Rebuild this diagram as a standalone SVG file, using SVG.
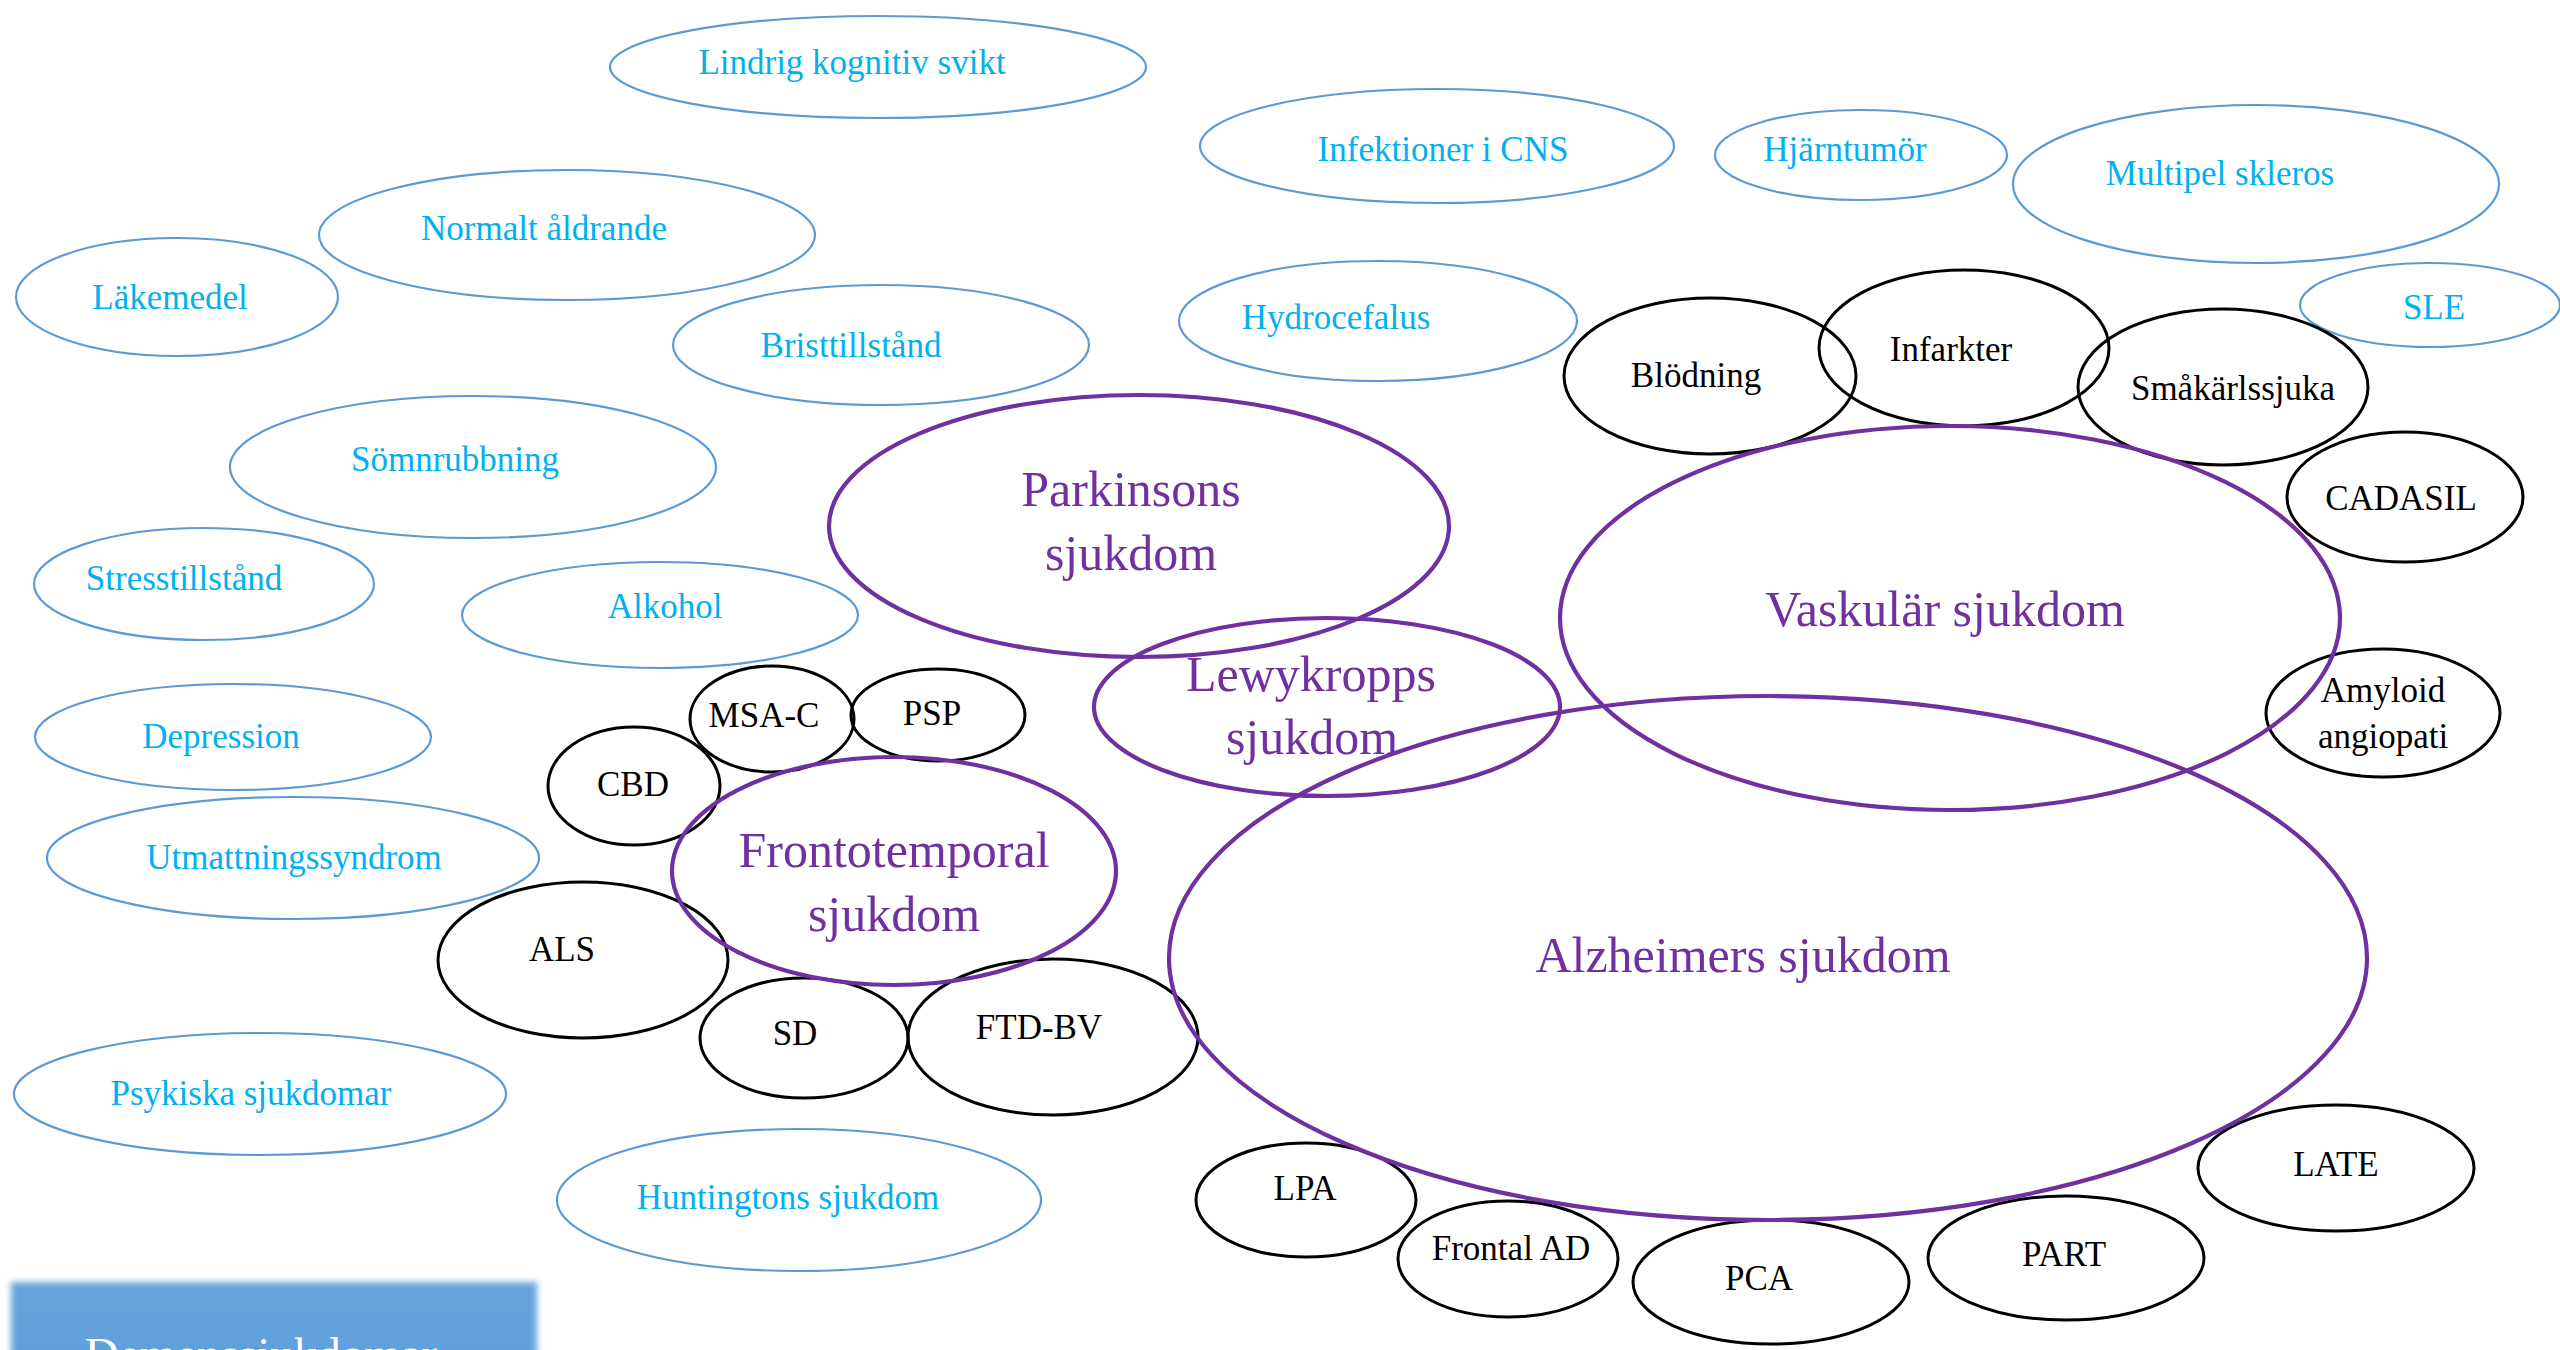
<svg xmlns="http://www.w3.org/2000/svg" width="2560" height="1350" viewBox="0 0 2560 1350">
<defs>
<style>
.b{fill:none;stroke:#5B9BD5;stroke-width:2.2}
.k{fill:none;stroke:#000;stroke-width:3}
.p{fill:none;stroke:#7030A0;stroke-width:4.2}
text{font-family:"Liberation Serif","DejaVu Serif",serif;text-anchor:middle}
.tb{fill:#00B0F0;font-size:35px}
.tk{fill:#000;font-size:35px}
.tp{fill:#7030A0;font-size:50px}
.tw{fill:#fff;font-size:47px}
</style>
<filter id="soft" x="-5%" y="-20%" width="110%" height="140%"><feGaussianBlur stdDeviation="3"/></filter>
<linearGradient id="bg" x1="0" y1="0" x2="0" y2="1"><stop offset="0" stop-color="#69A4DB"/><stop offset="1" stop-color="#5C9FDD"/></linearGradient>
</defs>
<rect width="2560" height="1350" fill="#fff"/>
<g id="connectors"></g>

<g id="lindrig"><ellipse class="b" cx="878" cy="67" rx="268" ry="51"/><text class="tb" x="852" y="74">Lindrig kognitiv svikt</text></g>
<g id="normalt"><ellipse class="b" cx="567" cy="235" rx="248" ry="65"/><text class="tb" x="544" y="240">Normalt åldrande</text></g>
<g id="lakemedel"><ellipse class="b" cx="177" cy="297" rx="161" ry="59"/><text class="tb" x="170" y="309">Läkemedel</text></g>
<g id="brist"><ellipse class="b" cx="881" cy="345" rx="208" ry="60"/><text class="tb" x="851" y="357">Bristtillstånd</text></g>
<g id="somn"><ellipse class="b" cx="473" cy="467" rx="243" ry="71"/><text class="tb" x="455" y="471">Sömnrubbning</text></g>
<g id="stress"><ellipse class="b" cx="204" cy="584" rx="170" ry="56"/><text class="tb" x="184" y="590">Stresstillstånd</text></g>
<g id="alkohol"><ellipse class="b" cx="660" cy="615" rx="198" ry="53"/><text class="tb" x="665" y="618">Alkohol</text></g>
<g id="depression"><ellipse class="b" cx="233" cy="737" rx="198" ry="53"/><text class="tb" x="221" y="748">Depression</text></g>
<g id="utmattning"><ellipse class="b" cx="293" cy="858" rx="246" ry="61"/><text class="tb" x="294" y="869">Utmattningssyndrom</text></g>
<g id="psykiska"><ellipse class="b" cx="260" cy="1094" rx="246" ry="61"/><text class="tb" x="251" y="1105">Psykiska sjukdomar</text></g>
<g id="huntington"><ellipse class="b" cx="799" cy="1200" rx="242" ry="71"/><text class="tb" x="788" y="1209">Huntingtons sjukdom</text></g>
<g id="infektioner"><ellipse class="b" cx="1437" cy="146" rx="237" ry="57"/><text class="tb" x="1443" y="161">Infektioner i CNS</text></g>
<g id="hjarntumor"><ellipse class="b" cx="1861" cy="155" rx="146" ry="45"/><text class="tb" x="1845" y="161">Hjärntumör</text></g>
<g id="ms"><ellipse class="b" cx="2256" cy="184" rx="243" ry="79"/><text class="tb" x="2220" y="185">Multipel skleros</text></g>
<g id="hydrocefalus"><ellipse class="b" cx="1378" cy="321" rx="199" ry="60"/><text class="tb" x="1336" y="329">Hydrocefalus</text></g>
<g id="sle"><ellipse class="b" cx="2430" cy="305" rx="130" ry="42"/><text class="tb" x="2434" y="319">SLE</text></g>

<g id="blodning"><ellipse class="k" cx="1710" cy="376" rx="146" ry="78"/><text class="tk" x="1696" y="387">Blödning</text></g>
<g id="infarkter"><ellipse class="k" cx="1964" cy="348" rx="145" ry="78"/><text class="tk" x="1951" y="361">Infarkter</text></g>
<g id="smakarl"><ellipse class="k" cx="2223" cy="387" rx="145" ry="78"/><text class="tk" x="2233" y="400">Småkärlssjuka</text></g>
<g id="cadasil"><ellipse class="k" cx="2405" cy="497" rx="118" ry="65"/><text class="tk" x="2401" y="510">CADASIL</text></g>
<g id="amyloid"><ellipse class="k" cx="2383" cy="713" rx="117" ry="64"/><text class="tk" x="2383" y="702">Amyloid</text><text class="tk" x="2383" y="748">angiopati</text></g>
<g id="msac"><ellipse class="k" cx="772" cy="719" rx="82" ry="53"/><text class="tk" x="764" y="727">MSA-C</text></g>
<g id="psp"><ellipse class="k" cx="938" cy="715" rx="87" ry="46"/><text class="tk" x="932" y="725">PSP</text></g>
<g id="cbd"><ellipse class="k" cx="634" cy="786" rx="86" ry="59"/><text class="tk" x="633" y="796">CBD</text></g>
<g id="als"><ellipse class="k" cx="583" cy="960" rx="145" ry="78"/><text class="tk" x="562" y="961">ALS</text></g>
<g id="sd"><ellipse class="k" cx="804" cy="1038" rx="104" ry="60"/><text class="tk" x="795" y="1045">SD</text></g>
<g id="ftdbv"><ellipse class="k" cx="1053" cy="1037" rx="145" ry="78"/><text class="tk" x="1039" y="1039">FTD-BV</text></g>
<g id="lpa"><ellipse class="k" cx="1306" cy="1200" rx="110" ry="57"/><text class="tk" x="1305" y="1200">LPA</text></g>
<g id="frontalad"><ellipse class="k" cx="1508" cy="1259" rx="110" ry="58"/><text class="tk" x="1511" y="1260">Frontal AD</text></g>
<g id="pca"><ellipse class="k" cx="1771" cy="1282" rx="138" ry="62"/><text class="tk" x="1759" y="1290">PCA</text></g>
<g id="part"><ellipse class="k" cx="2066" cy="1258" rx="138" ry="62"/><text class="tk" x="2064" y="1266">PART</text></g>
<g id="late"><ellipse class="k" cx="2336" cy="1168" rx="138" ry="63"/><text class="tk" x="2336" y="1176">LATE</text></g>

<g id="parkinson"><ellipse class="p" cx="1139" cy="526" rx="310" ry="131"/><text class="tp" x="1131" y="506">Parkinsons</text><text class="tp" x="1131" y="570">sjukdom</text></g>
<g id="lewy"><ellipse class="p" cx="1327" cy="707" rx="233" ry="89"/><text class="tp" x="1311" y="691">Lewykropps</text><text class="tp" x="1312" y="754">sjukdom</text></g>
<g id="vaskular"><ellipse class="p" cx="1950" cy="618" rx="390" ry="192"/><text class="tp" x="1945" y="626">Vaskulär sjukdom</text></g>
<g id="frontotemporal"><ellipse class="p" cx="894" cy="871" rx="222" ry="114"/><text class="tp" x="894" y="867">Frontotemporal</text><text class="tp" x="894" y="931">sjukdom</text></g>
<g id="alzheimer"><ellipse class="p" cx="1768" cy="958" rx="599" ry="262"/><text class="tp" x="1743" y="972">Alzheimers sjukdom</text></g>

<g id="demens"><rect x="11" y="1282" width="526" height="110" fill="url(#bg)" filter="url(#soft)"/><text class="tw" x="261" y="1370">Demenssjukdomar</text></g>
</svg>
